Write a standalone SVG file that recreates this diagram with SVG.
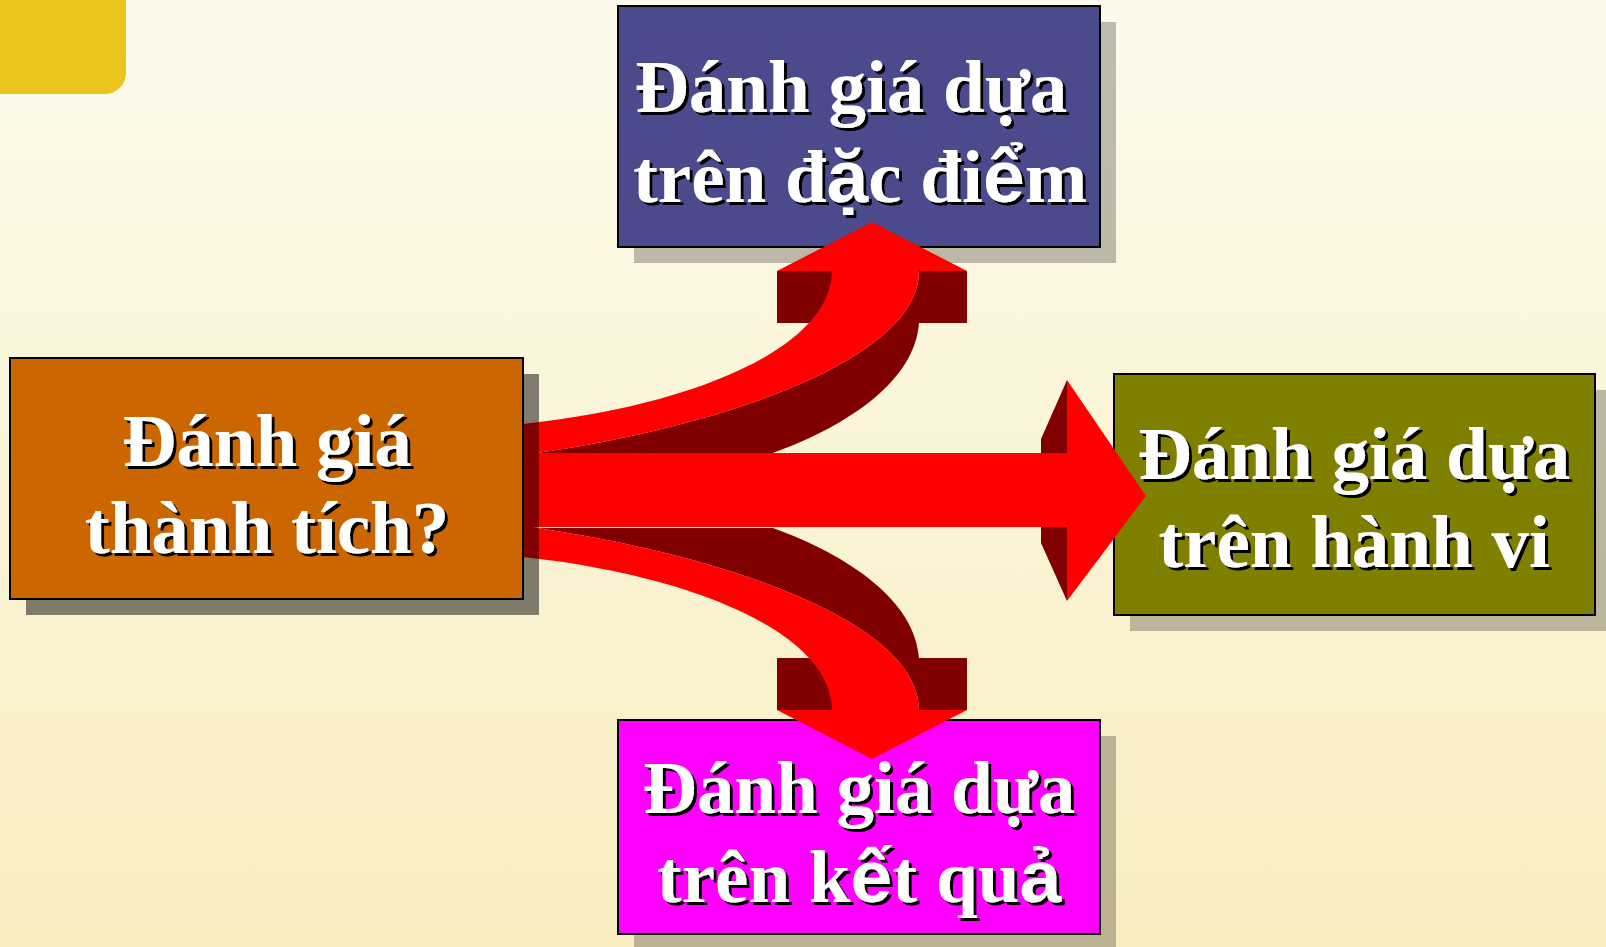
<svg xmlns="http://www.w3.org/2000/svg" xmlns:xlink="http://www.w3.org/1999/xlink" width="1606" height="947" viewBox="0 0 1606 947">
<defs>
<linearGradient id="bg" x1="0" y1="0" x2="0" y2="1">
<stop offset="0" stop-color="#FDFAEC"/>
<stop offset="1" stop-color="#F8EEC0"/>
</linearGradient>
<filter id="ts" x="-10%" y="-10%" width="120%" height="130%">
<feDropShadow dx="3" dy="3" stdDeviation="0" flood-color="#000" flood-opacity="1"/>
</filter>
<g id="curveUp">
<rect class="dk" x="777" y="271" width="55" height="52"/>
<rect class="dk" x="919" y="271" width="48" height="52"/>
<path class="dk" d="M919,271 L919,323 C915,380 850,425 773,453 L515,453 L515,455 L523,455 C720,428 919,360 919,271 Z"/>
<path class="rd" d="M515,424 L523,424 C700,405 832,345 832,271 L919,271 C919,360 720,428 523,455 L515,455 Z"/>
<polygon class="rd" points="777,271 872,222 967,271"/>
</g>
</defs>
<style>
.box { stroke: #000; stroke-width: 2; }
.sh { fill: #000; fill-opacity: 0.25; }
.lbl { font-family: "Liberation Serif", "Times New Roman", serif; font-weight: bold; font-size: 75px; fill: #fff; text-anchor: middle; filter: url(#ts); }
.sans { font-family: "Liberation Sans", Arial, sans-serif; }
.rd { fill: #FF0000; }
.dk { fill: #800000; }
</style>
<rect x="0" y="0" width="1606" height="947" fill="url(#bg)"/>
<rect x="-30" y="-30" width="156" height="124" rx="21" fill="#E8C61C"/>

<g id="node-traits">
<rect class="sh" x="634" y="22" width="482" height="241"/>
<rect class="box" x="618" y="6" width="482" height="241" fill="#4A4A8C"/>
<text class="lbl" x="851" y="112">Đánh giá dựa</text>
<text class="lbl" x="860" y="202">trên đ<tspan class="sans">ặ</tspan>c đi<tspan class="sans">ể</tspan>m</text>
</g>

<g id="node-behavior">
<rect class="sh" x="1130" y="390" width="481" height="241"/>
<rect class="box" x="1114" y="374" width="481" height="241" fill="#808000"/>
<text class="lbl" x="1354" y="479">Đánh giá dựa</text>
<text class="lbl" x="1354" y="567">trên hành vi</text>
</g>

<g id="node-results">
<rect class="sh" x="634" y="736" width="482" height="220"/>
<rect class="box" x="618" y="720" width="482" height="214" fill="#FF00FF"/>
<text class="lbl" x="859" y="813">Đánh giá dựa</text>
<text class="lbl" x="859" y="902">trên k<tspan class="sans">ế</tspan>t qu<tspan class="sans">ả</tspan></text>
</g>

<g id="connectors">
<use xlink:href="#curveUp"/>
<use xlink:href="#curveUp" transform="matrix(1 0 0 -1 0 981)"/>
<polygon class="dk" points="1041,439 1067,380 1067,453 1041,453"/>
<polygon class="dk" points="1041,527 1067,527 1067,601 1041,543"/>
<rect class="rd" x="515" y="453" width="553" height="74"/>
<polygon class="rd" points="1067,380 1146,496 1067,601"/>
</g>

<g id="node-performance">
<rect x="26" y="374" width="513" height="241" fill="#000" fill-opacity="0.49"/>
<rect class="box" x="10" y="358" width="513" height="241" fill="#CC6600"/>
<text class="lbl" x="267" y="466">Đánh giá</text>
<text class="lbl" x="267" y="553">thành tích?</text>
</g>
</svg>
